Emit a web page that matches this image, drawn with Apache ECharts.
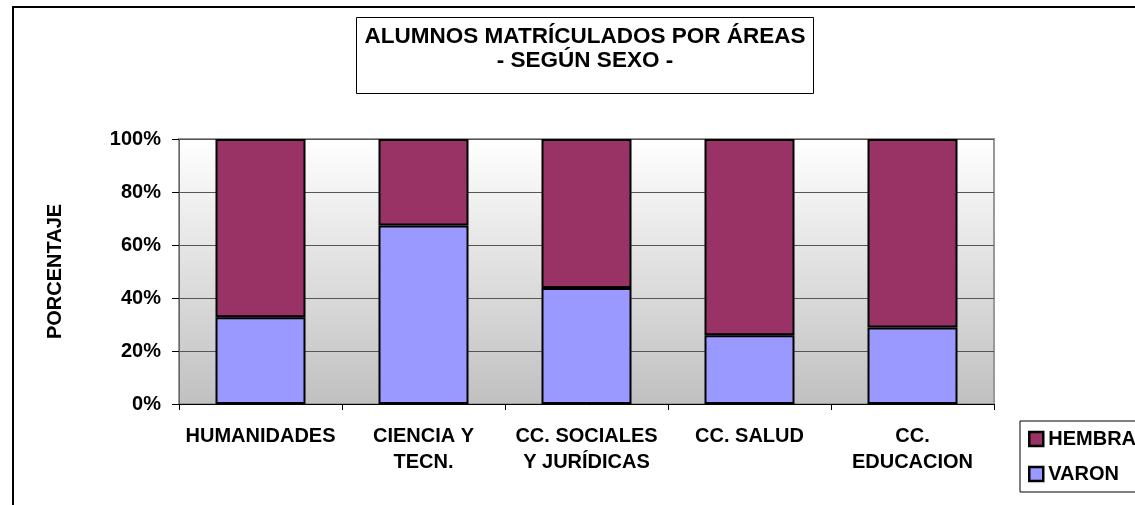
<!DOCTYPE html>
<html>
<head>
<meta charset="utf-8">
<script src="https://cdn.jsdelivr.net/npm/echarts@6/dist/echarts.min.js"></script>
<style>
  html, body { margin: 0; padding: 0; background: #fff; overflow: hidden; }
  #chart { width: 1170px; height: 505px; }
</style>
</head>
<body>
<div id="chart"></div>
<script>
// areas (x axis)
const areas = ['HUMANIDADES', 'CIENCIA Y\nTECN.', 'CC. SOCIALES\nY JURÍDICAS', 'CC. SALUD', 'CC.\nEDUCACION']
// percentage per sex
const varon = [32.7, 67.4, 43.8, 25.9, 28.9]
const hembra = [67.3, 32.6, 56.2, 74.1, 71.1]
const yTicks = [0, 20, 40, 60, 80, 100]

const font = 'Arial, "Liberation Sans", sans-serif'
const chart = echarts.init(document.getElementById('chart'))

const option = {
  animation: false,
  title: {
    text: 'ALUMNOS MATRÍCULADOS POR ÁREAS\n- SEGÚN SEXO -',
    left: 'center',
    top: 17,
    padding: [8, 8, 21, 8],
    borderColor: '#000',
    borderWidth: 1,
    textStyle: {
      fontFamily: font,
      fontSize: 22.5,
      fontWeight: 'bold',
      color: '#000',
      lineHeight: 24
    }
  },
  legend: {
    orient: 'vertical',
    left: 1020,
    top: 421,
    padding: [8, 8, 8, 8],
    icon: 'rect',
    itemWidth: 14,
    itemHeight: 14,
    itemGap: 15,
    borderColor: '#000',
    borderWidth: 1,
    data: ['HEMBRA', 'VARON'],
    itemStyle: { borderColor: '#000', borderWidth: 2.5 },
    textStyle: {
      fontFamily: font,
      fontSize: 20,
      fontWeight: 'bold',
      color: '#000'
    }
  },
  graphic: [
    {
      type: 'rect',
      shape: { x: 13, y: 7, width: 1400, height: 700 },
      style: { fill: 'none', stroke: '#000', lineWidth: 2 },
      silent: true
    }
  ],
  grid: {
    left: 179,
    right: 176,
    top: 139,
    bottom: 101,
    show: true,
    borderColor: '#999',
    borderWidth: 2,
    backgroundColor: new echarts.graphic.LinearGradient(0, 0, 0, 1, [
      { offset: 0, color: '#ffffff' },
      { offset: 1, color: '#c0c0c0' }
    ])
  },
  xAxis: {
    type: 'category',
    data: areas,
    axisLine: { lineStyle: { color: '#000', width: 1 } },
    axisTick: { show: true, length: 6, lineStyle: { color: '#000' } },
    axisLabel: {
      interval: 0,
      margin: 19,
      fontFamily: font,
      fontSize: 20,
      fontWeight: 'bold',
      color: '#000',
      lineHeight: 26
    }
  },
  yAxis: {
    type: 'value',
    min: yTicks[0],
    max: yTicks[yTicks.length - 1],
    interval: 20,
    name: 'PORCENTAJE',
    nameLocation: 'middle',
    nameRotate: 90,
    nameGap: 114,
    nameTextStyle: {
      fontFamily: font,
      fontSize: 20,
      fontWeight: 'bold',
      color: '#000'
    },
    axisLine: { show: true, lineStyle: { color: '#666', width: 1 } },
    axisTick: { show: true, length: 7, lineStyle: { color: '#000' } },
    axisLabel: {
      margin: 18,
      formatter: '{value}%',
      fontFamily: font,
      fontSize: 20,
      fontWeight: 'bold',
      color: '#000'
    },
    splitLine: { lineStyle: { color: '#555', width: 1 } }
  },
  series: [
    {
      name: 'VARON',
      type: 'bar',
      stack: 'sexo',
      barWidth: 90,
      data: varon,
      itemStyle: { color: '#9999ff', borderColor: '#000', borderWidth: 2 }
    },
    {
      name: 'HEMBRA',
      type: 'bar',
      stack: 'sexo',
      barWidth: 90,
      data: hembra,
      itemStyle: { color: '#993366', borderColor: '#000', borderWidth: 2 }
    }
  ]
}

chart.setOption(option)
</script>
</body>
</html>
